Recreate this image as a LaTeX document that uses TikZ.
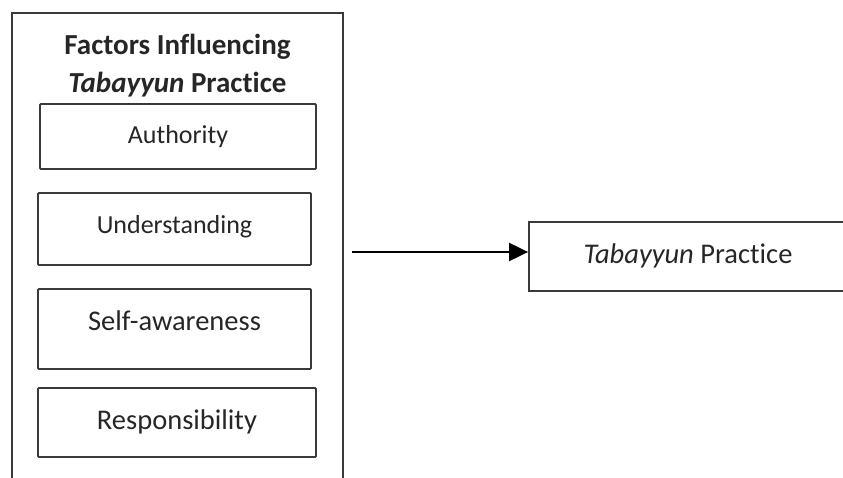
\documentclass[tikz,border=0pt]{standalone}
\usepackage{fontspec}
\setmainfont{Carlito}[Ligatures={NoCommon,NoRare}]
\usetikzlibrary{arrows.meta}
\definecolor{edge}{HTML}{3A3A3A}
\definecolor{ink}{HTML}{262626}
\tikzset{
    frame/.style={draw=edge,line width=1.8pt,rectangle,inner sep=0pt},
    factor/.style={frame,rounded corners=1pt,text=ink,text height=20pt,text depth=6pt},
    small/.style={font=\fontsize{26}{30}\selectfont},
    big/.style={font=\fontsize{28.5}{34}\selectfont},
    link/.style={-{Triangle[length=19pt,width=18pt]},line width=2pt,draw=black}
}
\begin{document}
\begin{tikzpicture}[x=1pt,y=-1pt]
    \useasboundingbox (0,0) rectangle (843,478);
    \clip (0,0) rectangle (843,478);
    \node[frame,anchor=north west,minimum width=331pt,minimum height=500pt] (factors) at (11,12) {};
    \node[text=ink,align=center,anchor=base,font=\bfseries\fontsize{29}{38}\selectfont] (title) at (177.5,93) {Factors Influencing\\\textit{Tabayyun} Practice};
    \node[factor,small,minimum width=276pt,minimum height=65pt] (authority) at (178,136.5) {Authority};
    \node[factor,small,minimum width=273pt,minimum height=72pt,text depth=10pt] (understanding) at (174.5,229) {Understanding};
    \node[factor,big,minimum width=273pt,minimum height=80pt,text depth=18pt] (selfaware) at (174.5,329) {Self-awareness};
    \node[factor,big,minimum width=278pt,minimum height=69pt] (responsib) at (177,422.5) {Responsibility};
    \node[frame,big,text=ink,text height=20pt,text depth=6pt,minimum width=318pt,minimum height=69pt] (result) at (688,256.5) {\textit{Tabayyun} Practice};
    \coordinate (tip) at ([yshift=4.5pt]result.west);
    \draw[link,shorten <=8pt] (factors.east |- tip) -- (tip);
\end{tikzpicture}
\end{document}
